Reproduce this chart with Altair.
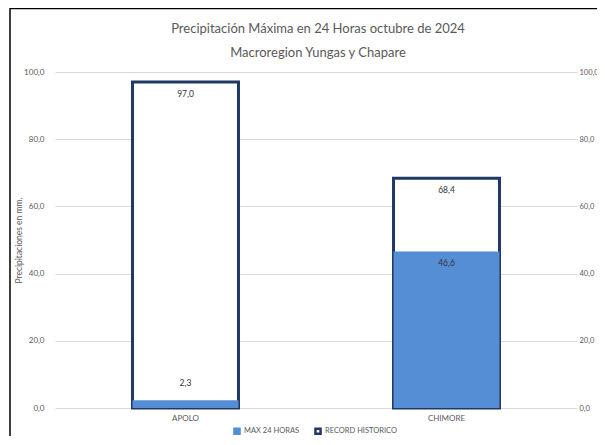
import altair as alt
import pandas as pd

stations = ["APOLO", "CHIMORE"]
max24 = [2.3, 46.6]
record = [97.0, 68.4]
series = ["MAX 24 HORAS", "RECORD HISTORICO"]
ticks = [0, 20, 40, 60, 80, 100]
title_lines = ["Precipitación Máxima en 24 Horas  octubre de 2024", "Macroregion Yungas y Chapare"]

rows = []
for s, m, r in zip(stations, max24, record):
    rows.append({"station": s, "serie": series[0], "value": m})
    rows.append({"station": s, "serie": series[1], "value": r})
df = pd.DataFrame(rows)

FONT = "Lato"
BLUE = "#558ED5"
NAVY = "#203864"
GREY = "#595959"
fmt_axis = "replace(format(datum.value, '.1f'), '.', ',')"

x = alt.X("station:N", sort=stations, title=None,
          scale=alt.Scale(paddingInner=0.594, paddingOuter=0.297),
          axis=alt.Axis(labelAngle=0, domain=False, ticks=False, labelPadding=6,
                        labelFontSize=8, labelColor=GREY, labelFont=FONT))
yscale = alt.Scale(domain=[0, 100], nice=False)
y_left = alt.Y("value:Q", scale=yscale, title="Precipitaciones en mm.",
               axis=alt.Axis(values=ticks, labelExpr=fmt_axis, grid=True, gridColor="#D9D9D9",
                             domain=False, ticks=False, labelPadding=11, labelFontSize=8,
                             labelColor=GREY, labelFont=FONT, titleFont=FONT, titleFontSize=8.5,
                             titleFontWeight="normal", titleColor=GREY, titlePadding=0))
y_right = alt.Y("value:Q", scale=yscale, title=None,
                axis=alt.Axis(orient="right", values=ticks, labelExpr=fmt_axis, grid=False,
                              domain=False, ticks=False, labelPadding=2, labelFontSize=7.5,
                              labelColor=GREY, labelFont=FONT))

leg = alt.Legend(title=None, orient="none", legendX=178, legendY=355, direction="horizontal",
                 symbolType="square", symbolSize=26, symbolStrokeWidth=2.5, labelFontSize=7.5,
                 labelColor=GREY, labelFont=FONT, columnPadding=10, labelOffset=3)
fill = alt.Fill("serie:N", scale=alt.Scale(domain=series, range=[BLUE, "white"]), legend=leg)
stroke = alt.Stroke("serie:N", scale=alt.Scale(domain=series, range=[BLUE, NAVY]), legend=leg)

base = alt.Chart(df)

rec = base.transform_filter(alt.datum.serie == series[1]).mark_bar(strokeWidth=3).encode(
    x=x, y=y_left, fill=fill, stroke=stroke)
mx = base.transform_filter(alt.datum.serie == series[0]).mark_bar(strokeWidth=0).encode(
    x=x, y=y_left, fill=fill)

lab = base.transform_calculate(
    label="replace(format(datum.value, '.1f'), '.', ',')"
)
small = (alt.datum.station == "APOLO") & (alt.datum.serie == series[0])
txt_in = lab.transform_filter(~small).mark_text(dy=12, baseline="middle", fontSize=8.5,
                                                font=FONT, color="#333333").encode(
    x=x, y=y_left, text="label:N")
txt_out = lab.transform_filter(small).mark_text(dy=-17, baseline="middle", fontSize=8.5,
                                                font=FONT, color="#333333").encode(
    x=x, y=y_left, text="label:N")

right = base.mark_point(opacity=0).encode(x=x, y=y_right)

frame_df = pd.DataFrame({"a": [0]})
frame = alt.Chart(frame_df).mark_rect(fill=None, fillOpacity=0, stroke="#000000", strokeWidth=1.5).encode(
    x=alt.value(-45), x2=alt.value(600), y=alt.value(-63.5), y2=alt.value(420))

t1 = alt.Chart(frame_df).mark_text(fontSize=13, font=FONT, color=GREY, baseline="middle").encode(
    x=alt.value(263), y=alt.value(-43), text=alt.value(title_lines[0]))
t2 = alt.Chart(frame_df).mark_text(fontSize=13, font=FONT, color=GREY, baseline="middle").encode(
    x=alt.value(263), y=alt.value(-19), text=alt.value(title_lines[1]))

main = alt.layer(rec, mx, txt_in, txt_out, frame, t1, t2)

chart = alt.layer(main, right).resolve_axis(
    y="independent"
).properties(
    width=522, height=336,
    autosize="none",
    padding={"left": 47, "top": 64, "right": 20, "bottom": 28},
).configure_view(stroke=None)

chart.save("out.html", embed_options={"renderer": "svg", "actions": False})
